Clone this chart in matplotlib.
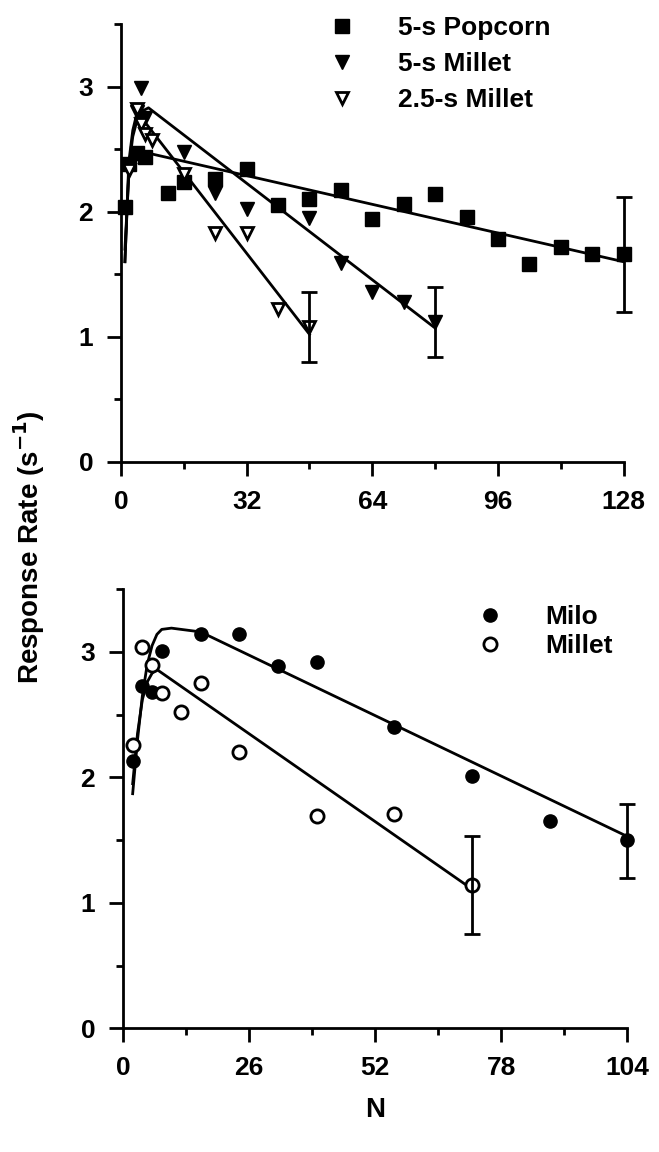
# Response rate vs N, two panels

import numpy as np
import matplotlib.pyplot as plt

# ---------------------------------------------------
# data, top panel
# ---------------------------------------------------

popcorn_x = [1, 2, 4, 6, 12, 16, 24, 32, 40, 48, 56, 64, 72, 80, 88, 96, 104, 112, 120, 128]
popcorn_y = [2.04, 2.38, 2.47, 2.44, 2.15, 2.24, 2.26, 2.34, 2.05, 2.10, 2.17, 1.94, 2.06, 2.14, 1.96, 1.78, 1.58, 1.72, 1.66, 1.66]
popcorn_err = [0.46, 0.46]

millet5_x = [2, 4, 5, 6, 16, 24, 32, 48, 56, 64, 72, 80]
millet5_y = [2.36, 2.80, 2.99, 2.75, 2.48, 2.15, 2.02, 1.95, 1.59, 1.36, 1.28, 1.12]
millet5_err = [0.28, 0.28]

millet25_x = [2, 4, 5, 6, 8, 16, 24, 32, 40, 48]
millet25_y = [2.33, 2.82, 2.70, 2.62, 2.57, 2.30, 1.83, 1.83, 1.22, 1.08]
millet25_err = [0.28, 0.28]

# fitted curves
popcorn_fit_x = [1, 2, 3, 5, 8, 128]
popcorn_fit_y = [1.70, 2.30, 2.42, 2.46, 2.46, 1.60]
millet5_fit_x = [1, 2, 3, 4, 7, 80]
millet5_fit_y = [1.60, 2.40, 2.65, 2.78, 2.83, 1.07]
millet25_fit_x = [1, 2, 3, 4, 5, 48]
millet25_fit_y = [1.60, 2.35, 2.60, 2.72, 2.76, 1.02]

# ---------------------------------------------------
# data, bottom panel
# ---------------------------------------------------

milo_x = [2, 4, 6, 8, 16, 24, 32, 40, 56, 72, 88, 104]
milo_y = [2.13, 2.73, 2.68, 3.01, 3.14, 3.14, 2.89, 2.92, 2.40, 2.01, 1.65, 1.50]
milo_err = [0.30, 0.29]

millet_x = [2, 4, 6, 8, 12, 16, 24, 40, 56, 72]
millet_y = [2.26, 3.04, 2.90, 2.67, 2.52, 2.75, 2.20, 1.69, 1.71, 1.14]
millet_err = [0.39, 0.39]

milo_fit_x = [2, 3, 4, 5, 6, 7, 8, 10, 16, 104]
milo_fit_y = [1.87, 2.30, 2.65, 2.90, 3.05, 3.14, 3.18, 3.19, 3.16, 1.53]
millet_fit_x = [2, 3, 4, 5, 6, 7, 72]
millet_fit_y = [1.95, 2.35, 2.62, 2.76, 2.83, 2.86, 1.11]

top_xticks = [0, 32, 64, 96, 128]
bottom_xticks = [0, 26, 52, 78, 104]
yticks = [0, 1, 2, 3]

# ---------------------------------------------------
# style
# ---------------------------------------------------

plt.rcParams['font.family'] = ['Liberation Sans', 'DejaVu Sans']
plt.rcParams['font.weight'] = 'bold'
plt.rcParams['axes.labelweight'] = 'bold'
plt.rcParams['font.size'] = 19

fig = plt.figure(figsize=(6.59, 11.52), dpi=100)

ax1 = fig.add_axes([0.1836, 0.599, 0.7627, 0.3802])
ax2 = fig.add_axes([0.1866, 0.1074, 0.765, 0.3811])

ms = 9.5
lw_fit = 2.0


def style_axis(ax, xticks, xminor):
    ax.set_ylim(0, 3.5)
    ax.set_xlim(xticks[0], xticks[-1])
    ax.set_xticks(xticks)
    ax.set_xticks(xminor, minor=True)
    ax.set_yticks(yticks)
    ax.set_yticks([0.5, 1.5, 2.5, 3.5], minor=True)
    ax.spines['top'].set_visible(False)
    ax.spines['right'].set_visible(False)
    ax.spines['left'].set_linewidth(2)
    ax.spines['bottom'].set_linewidth(2)
    ax.tick_params(axis='both', which='major', direction='out', width=2, length=10)
    ax.tick_params(axis='both', which='minor', direction='out', width=2, length=5)
    ax.tick_params(axis='x', which='major', pad=10)
    ax.tick_params(axis='y', which='major', pad=10)
    for sp in ax.spines.values():
        sp.set_clip_on(False)


def end_errorbar(ax, x, y, err):
    # error bar on the last point only, caps not clipped at the axis end
    eb = ax.errorbar(x, y, yerr=[[err[0]], [err[1]]], fmt='none', ecolor='black',
                     elinewidth=2, capsize=6, capthick=2)
    for cap in eb[1]:
        cap.set_clip_on(False)
    for bar in eb[2]:
        bar.set_clip_on(False)


# ---------------------------------------------------
# top panel
# ---------------------------------------------------

ax1.plot(popcorn_fit_x, popcorn_fit_y, color='black', lw=lw_fit, clip_on=False)
ax1.plot(millet5_fit_x, millet5_fit_y, color='black', lw=lw_fit, clip_on=False)
ax1.plot(millet25_fit_x, millet25_fit_y, color='black', lw=lw_fit, clip_on=False)

ax1.plot(popcorn_x, popcorn_y, 's', color='black', ms=ms, label='5-s Popcorn', clip_on=False)
ax1.plot(millet5_x, millet5_y, 'v', color='black', ms=ms + 1, label='5-s Millet', clip_on=False)
ax1.plot(millet25_x, millet25_y, 'v', mfc='white', mec='black', mew=2, ms=ms - 1,
         label='2.5-s Millet', clip_on=False)

end_errorbar(ax1, popcorn_x[-1], popcorn_y[-1], popcorn_err)
end_errorbar(ax1, millet5_x[-1], millet5_y[-1], millet5_err)
end_errorbar(ax1, millet25_x[-1], millet25_y[-1], millet25_err)

style_axis(ax1, top_xticks, [16, 48, 80, 112])

ax1.legend(loc='upper left', bbox_to_anchor=(329 / 659, 1 - 16 / 1152),
           bbox_transform=fig.transFigure, frameon=False, numpoints=1,
           handlelength=1, handletextpad=1.6, labelspacing=0.45,
           borderpad=0, borderaxespad=0, fontsize=19)

# ---------------------------------------------------
# bottom panel
# ---------------------------------------------------

ax2.plot(milo_fit_x, milo_fit_y, color='black', lw=lw_fit, clip_on=False)
ax2.plot(millet_fit_x, millet_fit_y, color='black', lw=lw_fit, clip_on=False)

ax2.plot(milo_x, milo_y, 'o', color='black', ms=ms, label='Milo', clip_on=False)
ax2.plot(millet_x, millet_y, 'o', mfc='white', mec='black', mew=2, ms=ms, label='Millet', clip_on=False)

end_errorbar(ax2, milo_x[-1], milo_y[-1], milo_err)
end_errorbar(ax2, millet_x[-1], millet_y[-1], millet_err)

style_axis(ax2, bottom_xticks, [13, 39, 65, 91])

ax2.legend(loc='upper left', bbox_to_anchor=(477 / 659, 1 - 605 / 1152),
           bbox_transform=fig.transFigure, frameon=False, numpoints=1,
           handlelength=1, handletextpad=1.6, labelspacing=0.2,
           borderpad=0, borderaxespad=0, fontsize=19)

ax2.set_xlabel('N', fontsize=20, fontweight='bold', labelpad=12)

fig.text(29 / 659, 1 - 547 / 1152, 'Response Rate (s$^{-1}$)', rotation=90,
         ha='center', va='center', fontsize=20, fontweight='bold')

fig.savefig('out.png', dpi=100)
